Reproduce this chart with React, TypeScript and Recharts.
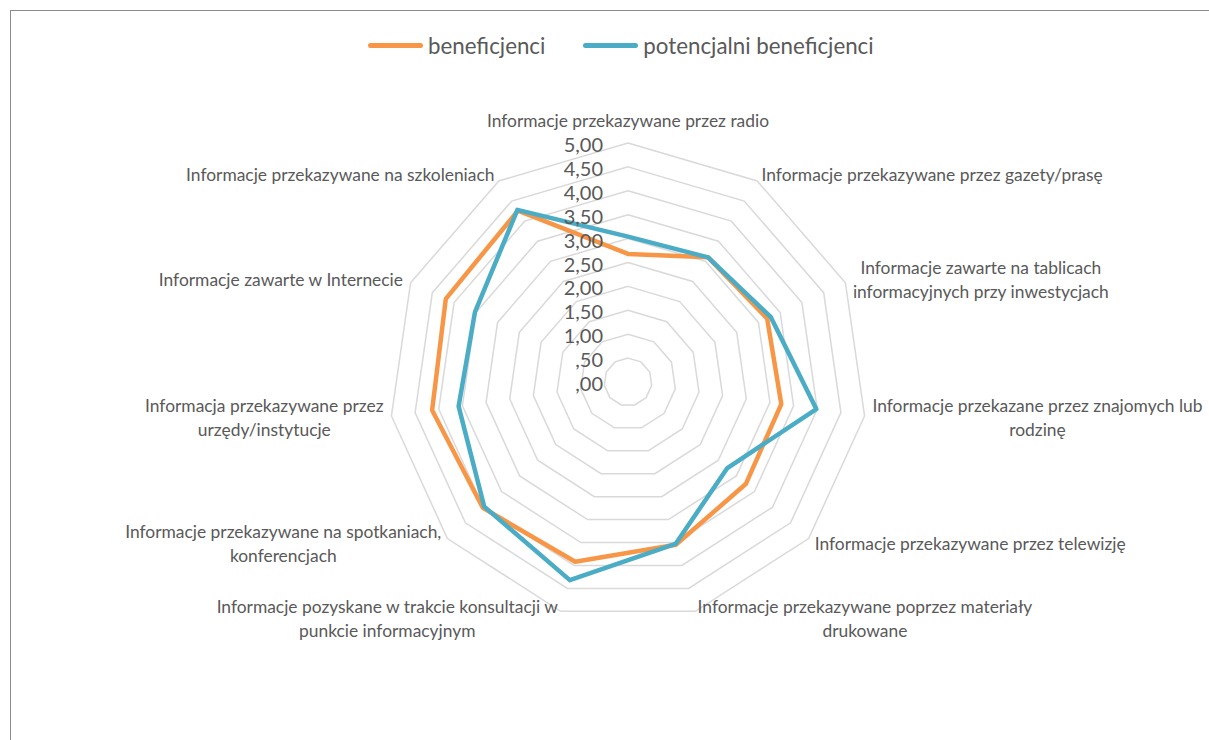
import { PolarAngleAxis, PolarGrid, PolarRadiusAxis, Radar, RadarChart } from "recharts";

// category labels ("\n" = line break as in the original)
const categories: string[] = [
  "Informacje przekazywane przez radio",
  "Informacje przekazywane przez gazety/prasę",
  "Informacje zawarte na tablicach\ninformacyjnych przy inwestycjach",
  "Informacje przekazane przez znajomych lub\nrodzinę",
  "Informacje przekazywane przez telewizję",
  "Informacje przekazywane poprzez materiały\ndrukowane",
  "Informacje pozyskane w trakcie konsultacji w\npunkcie informacyjnym",
  "Informacje przekazywane na spotkaniach,\nkonferencjach",
  "Informacja przekazywane przez\nurzędy/instytucje",
  "Informacje zawarte w Internecie",
  "Informacje przekazywane na szkoleniach",
];

const beneficjenci: number[] = [2.68, 3.1, 3.2, 3.24, 3.26, 3.55, 3.92, 4.02, 4.14, 4.19, 4.26];
const potencjalni: number[] = [3.04, 3.1, 3.28, 3.98, 2.75, 3.53, 4.32, 3.98, 3.58, 3.52, 4.28];

const radiusTicks: number[] = [0, 0.5, 1, 1.5, 2, 2.5, 3, 3.5, 4, 4.5, 5];

const data = categories.map((name, i) => ({
  name,
  ben: beneficjenci[i],
  pot: potencjalni[i],
}));

const FONT = "Lato, 'Open Sans', sans-serif";
const TEXT = "#595959";
const ORANGE = "#F79646";
const BLUE = "#4BACC6";
const LABEL_SIZE = 17.4;
const LINE_H = 24;
const RAD = Math.PI / 180;

let ctx: CanvasRenderingContext2D | null = null;
function measure(s: string) {
  if (!ctx) ctx = document.createElement("canvas").getContext("2d");
  if (!ctx) return s.length * 8;
  ctx.font = `${LABEL_SIZE}px ${FONT}`;
  return ctx.measureText(s).width;
}

function fmt(v: number) {
  const s = v.toFixed(2).replace(".", ",");
  return v < 1 ? s.slice(1) : s;
}

function AngleTick(props: any) {
  const { x, y, payload, textAnchor } = props;
  const lines: string[] = String(payload.value).split("\n");
  const w = Math.max(...lines.map(measure));
  const left = textAnchor === "start" ? x : textAnchor === "end" ? x - w : x - w / 2;
  const dy = -Math.sin(payload.coordinate * RAD);
  const h = lines.length * LINE_H;
  // top label sits above its vertex, the others are centred on it
  const cyBlock = dy < -0.95 ? y - h / 2 - 3 : y;
  return (
    <text fill={TEXT} fontSize={LABEL_SIZE} fontFamily={FONT} textAnchor="middle">
      {lines.map((l, i) => (
        <tspan key={i} x={left + w / 2} y={cyBlock - h / 2 + LINE_H * (i + 0.5)} dominantBaseline="central">
          {l}
        </tspan>
      ))}
    </text>
  );
}

function RadiusTick(props: any) {
  const { x, y, payload } = props;
  return (
    <text x={x - 25} y={y + 1} fill={TEXT} fontSize={20} fontFamily={FONT} textAnchor="end" dominantBaseline="central">
      {fmt(payload.value)}
    </text>
  );
}

function LegendItem({ color, label }: { color: string; label: string }) {
  return (
    <div style={{ display: "flex", alignItems: "center" }}>
      <div style={{ width: 55, height: 5, borderRadius: 3, background: color, marginRight: 5 }} />
      <span style={{ fontSize: 22.3, color: TEXT }}>{label}</span>
    </div>
  );
}

export default function App() {
  return (
    <div
      style={{
        position: "absolute",
        left: 0,
        top: 0,
        width: 1209,
        height: 740,
        background: "#fff",
        overflow: "hidden",
        fontFamily: FONT,
      }}
    >
      <div
        style={{
          position: "absolute",
          left: 10,
          top: 10,
          width: 1220,
          height: 760,
          borderTop: "1.5px solid #8c8c8c",
          borderLeft: "1.5px solid #8c8c8c",
        }}
      />
      <div style={{ position: "absolute", left: 368, top: 32, display: "flex", gap: 38 }}>
        <LegendItem color={ORANGE} label="beneficjenci" />
        <LegendItem color={BLUE} label="potencjalni beneficjenci" />
      </div>
      <div style={{ position: "absolute", left: 0, top: 0 }}>
        <RadarChart
          width={1209}
          height={740}
          data={data}
          cx={628}
          cy={382}
          outerRadius={239}
          margin={{ top: 0, right: 0, bottom: 0, left: 0 }}
        >
          <PolarGrid gridType="polygon" radialLines={false} stroke="#d9d9d9" strokeWidth={1.5} />
          <PolarAngleAxis dataKey="name" tick={<AngleTick />} tickLine={false} axisLine={false} />
          <PolarRadiusAxis
            angle={90}
            domain={[0, 5]}
            ticks={radiusTicks as any}
            tickCount={11}
            tick={<RadiusTick />}
            axisLine={false}
            tickLine={false}
          />
          <Radar
            dataKey="ben"
            stroke={ORANGE}
            strokeWidth={4.5}
            fill="none"
            fillOpacity={0}
            strokeLinejoin="round"
            isAnimationActive={false}
          />
          <Radar
            dataKey="pot"
            stroke={BLUE}
            strokeWidth={4.5}
            fill="none"
            fillOpacity={0}
            strokeLinejoin="round"
            isAnimationActive={false}
          />
        </RadarChart>
      </div>
    </div>
  );
}
